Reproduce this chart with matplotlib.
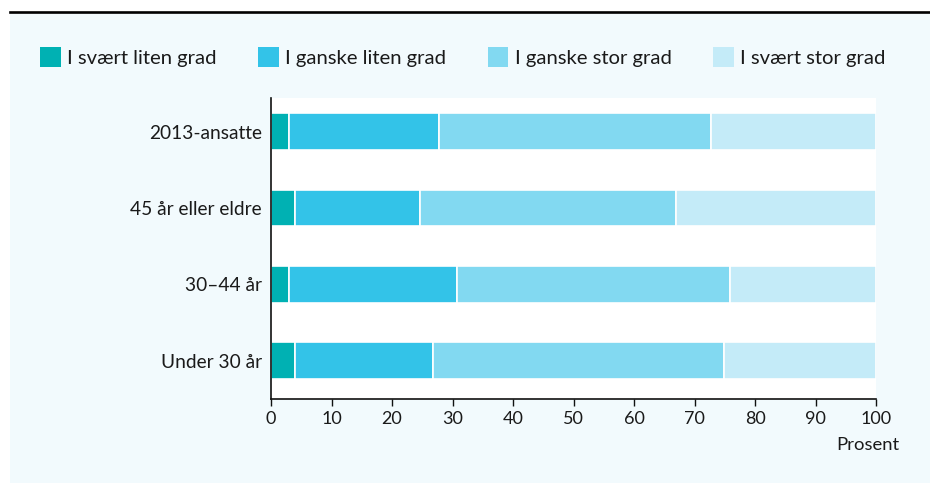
import matplotlib
matplotlib.use("Agg")
import matplotlib.pyplot as plt
from matplotlib.patches import Rectangle
from matplotlib.lines import Line2D
import numpy as np

plt.rcParams['font.family'] = ['Lato', 'DejaVu Sans']

# Age groups, listed top to bottom
groups = ["2013-ansatte", "45 år eller eldre", "30–44 år", "Under 30 år"]

# Share of respondents (percent) per answer category
svaert_liten = [3.0, 3.9, 3.0, 3.9]
ganske_liten = [24.7, 20.7, 27.8, 22.9]
ganske_stor = [45.0, 42.4, 45.1, 48.1]
svaert_stor = [27.3, 33.0, 24.1, 25.1]

series_names = ["I svært liten grad", "I ganske liten grad",
                "I ganske stor grad", "I svært stor grad"]
series_colors = ["#00b1b3", "#33c3e8", "#82d9f1", "#c4ebf8"]
x_ticks = list(range(0, 101, 10))

W, H = 930, 483
fig = plt.figure(figsize=(W / 100, H / 100), dpi=100)
fig.patch.set_facecolor("white")

# light panel behind the whole chart, with a black rule on top
fig.patches.append(Rectangle((10 / W, 0), 1 - 10 / W, 1 - 13 / H,
                             transform=fig.transFigure, facecolor="#f2fafd",
                             edgecolor="none", zorder=-10))
fig.lines.append(Line2D([10 / W, 1], [1 - 12 / H, 1 - 12 / H],
                        transform=fig.transFigure, color="black", lw=1.9))

ax = fig.add_axes([271 / W, 1 - 399 / H, (876 - 271) / W, (399 - 98) / H])
ax.set_facecolor("white")

ypos = np.arange(len(groups))[::-1]
left = np.zeros(len(groups))
for name, vals, col in zip(series_names,
                           [svaert_liten, ganske_liten, ganske_stor, svaert_stor],
                           series_colors):
    vals = np.array(vals)
    ax.barh(ypos, vals, left=left, height=0.48, color=col,
            edgecolor="white", linewidth=1.2, label=name)
    left += vals

ax.set_xlim(0, 100)
ax.set_ylim(-0.5, 3.44)
ax.set_xticks(x_ticks)
ax.set_yticks(ypos)
ax.set_yticklabels(groups)

for s in ("top", "right"):
    ax.spines[s].set_visible(False)
for s in ("left", "bottom"):
    ax.spines[s].set_linewidth(1.2)
    ax.spines[s].set_color("#111111")

ax.tick_params(axis="y", length=0, pad=6.5, labelsize=13.8, labelcolor="#1a1a1a")
ax.tick_params(axis="x", length=5, width=1.0, pad=4, labelsize=13,
               labelcolor="#1a1a1a", color="#111111")

fig.text(899 / W, 1 - 445 / H, "Prosent", ha="right", va="center",
         fontsize=13.3, color="#1a1a1a")

handles, labels = ax.get_legend_handles_labels()
leg = fig.legend(handles, labels, loc="center left",
                 bbox_to_anchor=(40 / W, 1 - 57 / H), ncol=4, frameon=False,
                 fontsize=14.6, handlelength=1.03, handleheight=1.2,
                 handletextpad=0.3, columnspacing=2.05, borderaxespad=0,
                 borderpad=0)
for p in leg.get_patches():
    p.set_edgecolor("none")
for t in leg.get_texts():
    t.set_color("#1a1a1a")

fig.savefig("out.png", dpi=100, facecolor="white")
